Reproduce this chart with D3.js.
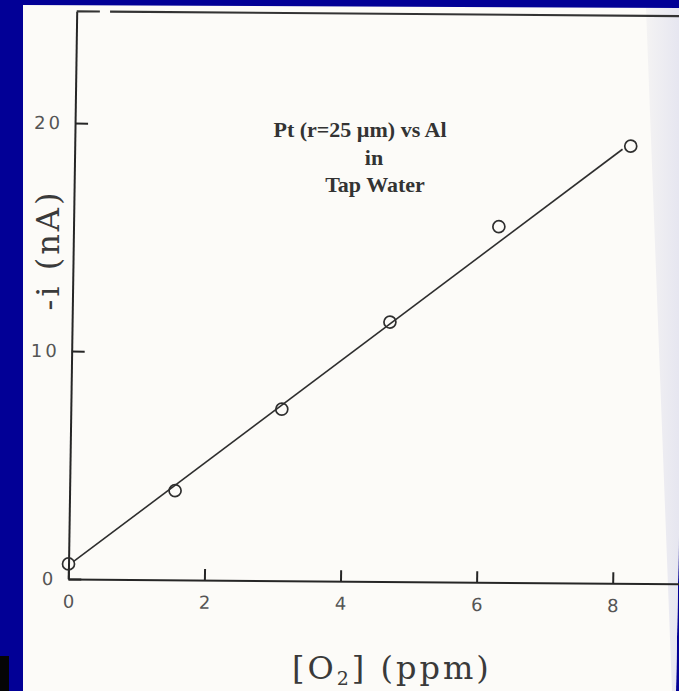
<!DOCTYPE html>
<html>
<head>
<meta charset="utf-8">
<script src="https://cdn.jsdelivr.net/npm/d3@7/dist/d3.min.js"></script>
<style>
  html, body { margin: 0; padding: 0; background: #020096; }
  svg { display: block; }
</style>
</head>
<body>
<svg id="chart" width="679" height="691"></svg>
<script>
// Oxygen calibration: Pt microdisk (r = 25 µm) vs Al in tap water
const o2ppm    = [0, 1.55, 3.1, 4.67, 6.25, 8.17];
const currentNA = [0.66, 3.91, 7.52, 11.38, 15.6, 19.18];

// least-squares line as drawn on the sheet (end points)
const fitX = [0.07, 8.05];
const fitY = [0.76, 19.04];

const xTicks = [0, 2, 4, 6, 8];
const yTicks = [0, 10, 20];

const titleLines = ["Pt (r=25 \u00b5m) vs Al", "in", "Tap Water"];
const yTitle = "-i (nA)";

const W = 679, H = 691;
const svg = d3.select("#chart");

// blue slide background and the scanned sheet
svg.append("rect").attr("width", W).attr("height", H).attr("fill", "#020096");
svg.append("path")
  .attr("d", "M23,5 L679,8 L679,530 L676,691 L23,691 Z")
  .attr("fill", "#fcfbf8");
// lighter strip along the sheet's right edge
const grad = svg.append("defs").append("linearGradient")
  .attr("id", "edge").attr("x1", 0).attr("x2", 1).attr("y1", 0).attr("y2", 0);
grad.append("stop").attr("offset", 0).attr("stop-color", "#f4f3f3");
grad.append("stop").attr("offset", 1).attr("stop-color", "#e6e6f0");
svg.append("path")
  .attr("d", "M646,8 L679,8 L679,530 L676,691 L672,691 Z")
  .attr("fill", "url(#edge)");
svg.append("rect").attr("x", 0).attr("y", 656).attr("width", 9).attr("height", 35).attr("fill", "#050505");

// plot frame: the sheet sits slightly skewed
const ox = 68.3, oy = 579;
const degA = 0.45 * Math.PI / 180, degB = 0.85 * Math.PI / 180;
const g = svg.append("g")
  .attr("transform", `translate(${ox},${oy}) matrix(${Math.cos(degA)},${Math.sin(degA)},${-Math.sin(degB)},${Math.cos(degB)},0,0)`);

const x = d3.scaleLinear().domain([0, 9.3]).range([0, 9.3 * 68.05]);
const y = d3.scaleLinear().domain([0, 24.9]).range([0, -24.9 * 22.8]);

const ink = "#262626";
const tickFont = { family: "DejaVu Sans", size: 18, fill: "#555" };

// x axis, ticks pointing up into the plot
const xAxis = g.append("g")
  .call(d3.axisBottom(x).tickValues(xTicks).tickSizeInner(-11).tickSizeOuter(0).tickPadding(16).tickFormat(d3.format("d")));
xAxis.select(".domain").attr("stroke", ink).attr("stroke-width", 2);
xAxis.selectAll(".tick line").attr("stroke", ink).attr("stroke-width", 2);
xAxis.selectAll(".tick text")
  .attr("font-family", tickFont.family).attr("font-size", tickFont.size).attr("fill", tickFont.fill);

// y axis, ticks pointing right into the plot
const yAxis = g.append("g")
  .call(d3.axisLeft(y).tickValues(yTicks).tickSizeInner(-13).tickSizeOuter(0).tickPadding(12).tickFormat(d3.format("d")));
yAxis.select(".domain").attr("stroke", ink).attr("stroke-width", 2);
yAxis.selectAll(".tick line").attr("stroke", ink).attr("stroke-width", 2);
yAxis.selectAll(".tick text")
  .attr("font-family", tickFont.family).attr("font-size", tickFont.size).attr("fill", tickFont.fill)
  .attr("letter-spacing", 3);

// top border of the frame (short stub, a gap, then the long rule)
const topSegs = [[0, 0.34], [0.49, 9.3]];
g.selectAll("line.top").data(topSegs).join("line")
  .attr("class", "top")
  .attr("x1", d => x(d[0])).attr("x2", d => x(d[1]))
  .attr("y1", y(24.9)).attr("y2", y(24.9))
  .attr("stroke", "#333").attr("stroke-width", 2.2);

// fitted line
g.append("path")
  .datum(fitX.map((v, i) => [v, fitY[i]]))
  .attr("d", d3.line().x(d => x(d[0])).y(d => y(d[1])))
  .attr("fill", "none").attr("stroke", "#2e2e2e").attr("stroke-width", 1.6);

// measured points
g.selectAll("circle.pt").data(o2ppm.map((v, i) => [v, currentNA[i]])).join("circle")
  .attr("class", "pt")
  .attr("cx", d => x(d[0])).attr("cy", d => y(d[1]))
  .attr("r", 6)
  .attr("fill", "none").attr("stroke", "#2e2e2e").attr("stroke-width", 1.7);

// axis titles
svg.append("text")
  .attr("transform", "translate(48,250) rotate(-90)")
  .attr("text-anchor", "middle").attr("dominant-baseline", "central")
  .attr("font-family", "DejaVu Serif").attr("font-size", 32).attr("letter-spacing", 3)
  .attr("fill", "#3a3a3a")
  .text(yTitle);

const xt = svg.append("text")
  .attr("x", 292).attr("y", 679)
  .attr("font-family", "DejaVu Serif").attr("font-size", 32).attr("letter-spacing", 3)
  .attr("fill", "#3a3a3a");
xt.append("tspan").text("[O");
xt.append("tspan").attr("font-size", 19).attr("dy", 6).text("2");
xt.append("tspan").attr("dy", -6).text("] (ppm)");

// panel title
const titleX = [360, 374, 375];
const titleY = [137, 165, 192];
svg.selectAll("text.title").data(titleLines).join("text")
  .attr("class", "title")
  .attr("x", (d, i) => titleX[i]).attr("y", (d, i) => titleY[i])
  .attr("text-anchor", "middle")
  .attr("font-family", "Liberation Serif").attr("font-weight", "bold").attr("font-size", 22)
  .attr("fill", "#333")
  .text(d => d);
</script>
</body>
</html>
